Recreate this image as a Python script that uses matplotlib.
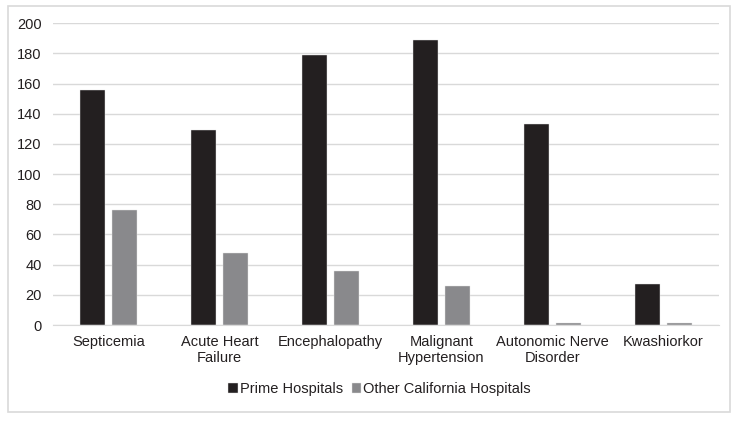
import numpy as np
import matplotlib.pyplot as plt
from matplotlib.patches import Rectangle

categories = ['Septicemia', 'Acute Heart\nFailure', 'Encephalopathy',
              'Malignant\nHypertension', 'Autonomic Nerve\nDisorder', 'Kwashiorkor']
prime = [156, 129, 179, 189, 133, 27]
other = [76, 48, 36, 26, 1.5, 1.5]
series_names = ['Prime Hospitals', 'Other California Hospitals']

plt.rcParams['font.family'] = ['Liberation Sans', 'DejaVu Sans']

fig = plt.figure(figsize=(7.44, 4.21), dpi=100)
ax = fig.add_axes([0.0712, 0.228, 0.895, 0.717])

x = np.arange(len(categories))
w = 0.225
ax.bar(x - 0.144, prime, w, color='#231f20', edgecolor='#e6e6e6', linewidth=0.3,
       label=series_names[0], zorder=3)
ax.bar(x + 0.144, other, w, color='#89898c', edgecolor='#e6e6e6', linewidth=0.3,
       label=series_names[1], zorder=3)

ax.set_xlim(-0.5, len(categories) - 0.5)
ax.set_ylim(0, 200)
ax.set_yticks(range(0, 201, 20))
ax.set_xticks(x)
ax.set_xticklabels(categories, fontsize=10.5, color='#231f20', linespacing=1.25)
ax.tick_params(axis='y', labelsize=10.5, colors='#231f20', length=0, pad=8)
ax.tick_params(axis='x', length=0, pad=7)
ax.grid(axis='y', color='#d9d9d9', linewidth=1, zorder=0)
for s in ['top', 'right', 'left']:
    ax.spines[s].set_visible(False)
ax.spines['bottom'].set_color('#d9d9d9')
ax.spines['bottom'].set_zorder(4)

fig.legend(loc='center', bbox_to_anchor=(0.51, 0.076), ncol=2, frameon=False,
           fontsize=10.5, handlelength=0.65, handleheight=0.7, handletextpad=0.15,
           columnspacing=0.6, labelcolor='#231f20')

fig.patches.append(Rectangle((8 / 744, 0.0214), 722 / 744, 0.9643,
                             transform=fig.transFigure, fill=False,
                             edgecolor='#d9d9d9', linewidth=1.2))

plt.savefig('out.png', dpi=100)
